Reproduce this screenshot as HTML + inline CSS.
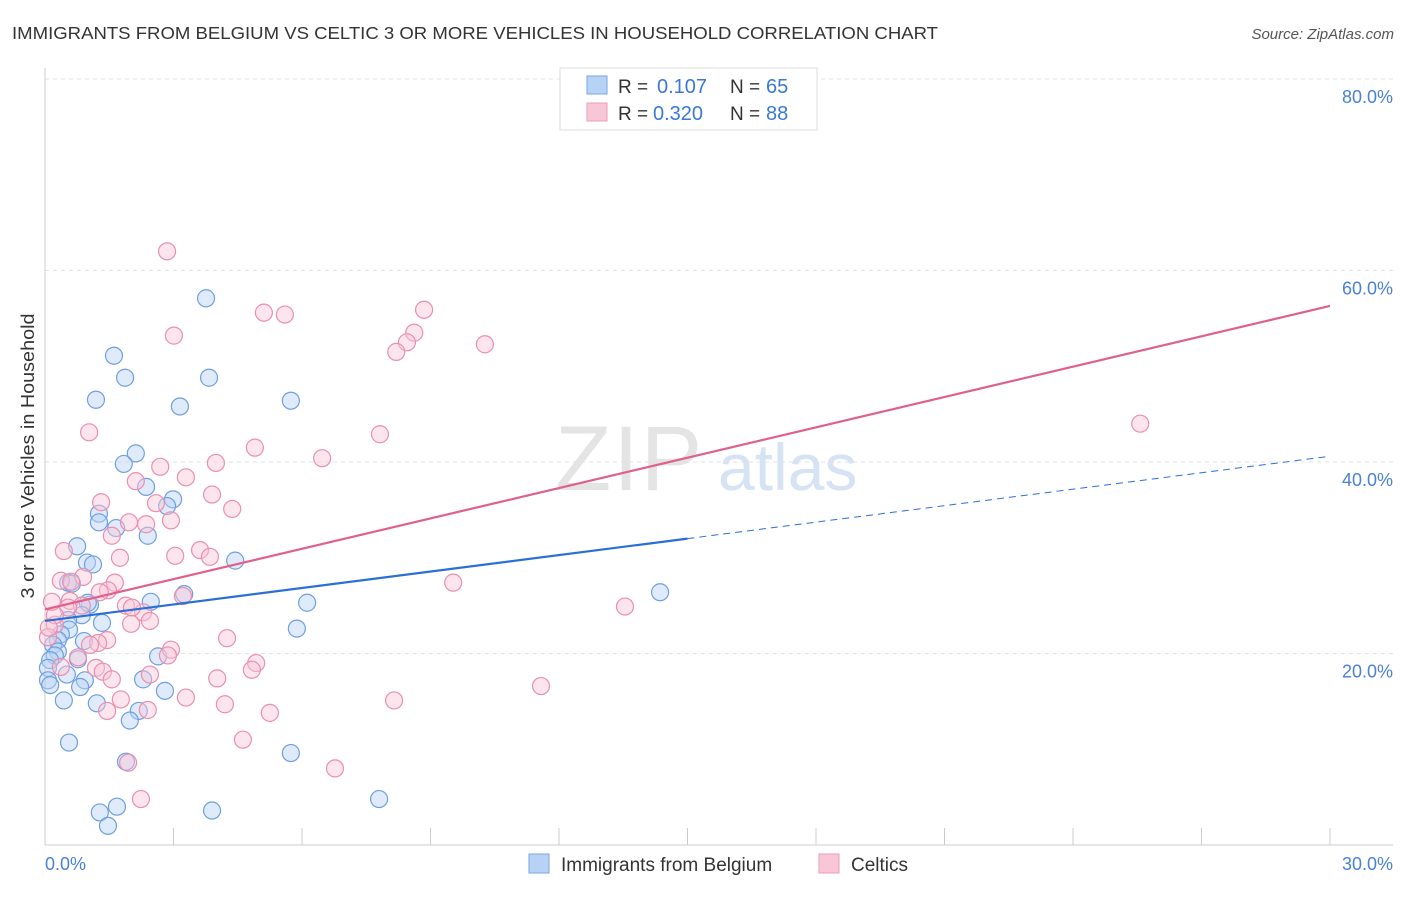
<!DOCTYPE html>
<html><head><meta charset="utf-8"><style>
body{margin:0;background:#fff;font-family:"Liberation Sans",sans-serif;}
svg text{font-family:"Liberation Sans",sans-serif;}
</style></head><body>
<svg id="chart" width="1406" height="892" xmlns="http://www.w3.org/2000/svg">
<text x="12" y="39" font-size="17.5" fill="#333" textLength="926" lengthAdjust="spacingAndGlyphs">IMMIGRANTS FROM BELGIUM VS CELTIC 3 OR MORE VEHICLES IN HOUSEHOLD CORRELATION CHART</text>
<text x="1394" y="39" font-size="15" fill="#555" text-anchor="end" font-style="italic">Source: ZipAtlas.com</text>
<g>
<text x="555" y="490" font-size="92" fill="#e4e4e4" font-family="Liberation Serif,serif" letter-spacing="2">ZIP</text>
<text x="718" y="490" font-size="66" fill="#d6e3f5">atlas</text>
</g>
<g id="grid"></g>
<g id="axes"></g>
<g id="pts-blue"></g>
<g id="pts-pink"></g>
<g id="lines"></g>
<text transform="translate(34,456) rotate(-90)" font-size="18" fill="#333" text-anchor="middle" textLength="285" lengthAdjust="spacingAndGlyphs">3 or more Vehicles in Household</text>
<g>
<rect x="560" y="68" width="257" height="62" fill="#fff" stroke="#ddd"/>
<rect x="587" y="76" width="20" height="18" fill="#b7d2f5" stroke="#7aa6e3"/>
<rect x="587" y="103" width="20" height="18" fill="#f8c6d6" stroke="#ee9cb8"/>
<text x="618" y="93" font-size="19" fill="#333">R =</text>
<text x="657" y="93" font-size="20" fill="#3a78d8">0.107</text>
<text x="730" y="93" font-size="19" fill="#333">N =</text>
<text x="766" y="93" font-size="20" fill="#3a78d8">65</text>
<text x="618" y="120" font-size="19" fill="#333">R =</text>
<text x="653" y="120" font-size="20" fill="#3a78d8">0.320</text>
<text x="730" y="120" font-size="19" fill="#333">N =</text>
<text x="766" y="120" font-size="20" fill="#3a78d8">88</text>
</g>
<g>
<rect x="529" y="854" width="20" height="19" fill="#b7d2f5" stroke="#7aa6e3"/>
<text x="561" y="871" font-size="19" fill="#333">Immigrants from Belgium</text>
<rect x="819" y="854" width="20" height="19" fill="#f8c6d6" stroke="#ee9cb8"/>
<text x="851" y="871" font-size="19" fill="#333">Celtics</text>
</g>
</svg>
<script>
const yTicks=[20,40,60,80];
const xTickLabels=["0.0%","30.0%"];
const blueX=[3.76,1.61,1.87,3.83,1.19,3.15,5.74,2.12,1.84,2.36,2.99,2.85,1.26,1.26,1.66,2.40,0.75,4.44,0.98,1.12,0.54,0.63,3.25,2.47,6.12,1.05,1.00,0.86,0.54,1.33,0.56,5.88,0.37,0.30,0.91,0.19,0.30,0.23,0.12,2.64,0.77,0.07,0.51,0.93,2.29,0.07,0.82,2.80,0.44,1.21,2.19,1.98,0.56,5.74,1.89,14.36,7.80,1.68,1.28,3.90,1.47,0.12];
const blueY=[57.1,51.1,48.8,48.8,46.5,45.8,46.4,40.9,39.8,37.4,36.1,35.4,34.6,33.7,33.1,32.3,31.2,29.7,29.5,29.3,27.4,27.3,26.2,25.4,25.3,25.1,25.3,24.0,23.5,23.2,22.5,22.6,22.0,21.4,21.3,20.9,20.2,19.8,19.3,19.7,19.4,18.5,17.8,17.2,17.3,17.2,16.5,16.1,15.1,14.8,14.0,13.0,10.7,9.6,8.7,26.4,4.8,4.0,3.4,3.6,2.0,16.7];
const pinkX=[2.85,5.11,5.60,8.85,3.01,8.62,8.45,8.20,10.27,1.03,7.82,4.90,6.47,2.69,3.99,3.29,2.12,1.31,3.90,4.37,2.59,1.96,2.94,2.36,1.56,3.62,0.44,3.85,1.75,3.04,0.89,1.63,0.37,0.61,1.47,1.28,3.22,9.53,0.58,1.89,2.29,0.86,0.54,2.45,2.03,0.23,2.01,4.25,0.07,1.45,1.24,1.05,2.94,2.87,4.93,0.77,1.19,4.83,1.35,2.45,0.37,4.02,1.56,11.58,3.29,8.15,1.77,4.20,2.40,1.45,5.25,4.62,1.94,6.77,2.24,13.54,25.57,0.23,0.09,0.16];
const pinkY=[62.0,55.6,55.4,55.9,53.2,53.5,52.5,51.5,52.3,43.1,42.9,41.5,40.4,39.5,39.9,38.4,38.0,35.8,36.6,35.1,35.7,33.7,33.9,33.5,32.3,30.8,30.7,30.1,30.0,30.2,28.0,27.4,27.6,27.5,26.6,26.4,26.0,27.4,25.5,25.0,24.3,25.0,24.8,23.4,24.8,23.0,23.1,21.6,21.7,21.4,21.1,20.9,20.4,19.8,19.0,19.6,18.5,18.3,18.1,17.8,18.6,17.4,17.3,16.6,15.4,15.1,15.2,14.7,14.1,14.0,13.8,11.0,8.6,8.0,4.8,24.9,44.0,24.0,22.7,25.4];
const blueLine=[23.4,40.6];
const blueSolidEnd=15;
const pinkLine=[24.6,56.3];
const NS="http://www.w3.org/2000/svg";
const X0=45,X1=1330,Y0=845,PXPER=9.575;
const sx=v=>X0+(v/30)*(X1-X0);
const sy=v=>Y0-v*PXPER;
function mk(tag,attrs,parent){const e=document.createElementNS(NS,tag);for(const k in attrs)e.setAttribute(k,attrs[k]);parent.appendChild(e);return e;}
const grid=document.getElementById('grid'),axes=document.getElementById('axes');
yTicks.forEach(t=>{
 const l=mk('line',{x1:X0,x2:1393,y1:sy(t),y2:sy(t),stroke:'#e2e2e2','stroke-dasharray':'4,4'},grid);
 
 
 const tx=mk('text',{x:1393,y:sy(t)+24,'font-size':18,fill:'#4a80d8','text-anchor':'end'},axes);
 tx.textContent=t.toFixed(1)+'%';
 
 
});
mk('line',{x1:X0,x2:X0,y1:68,y2:Y0,stroke:'#ccc'},axes);
mk('line',{x1:X0,x2:1393,y1:Y0,y2:Y0,stroke:'#ccc'},axes);
for(let i=0;i<=10;i++){const x=sx(i*3);const t=mk('line',{x1:x,x2:x,y1:Y0,y2:Y0-17,stroke:'#ccc'},axes);
 
 }
[[0,'start',45],[30,'end',1393]].forEach((d,i)=>{const t=mk('text',{x:d[2],y:870,'font-size':18,fill:'#4a80d8','text-anchor':d[1]},axes);t.textContent=xTickLabels[i];
 
 });
function pts(xs,ys,g,fill,stroke,name){xs.forEach((x,i)=>{const c=mk('circle',{cx:sx(x),cy:sy(ys[i]),r:8.5,fill:fill,'fill-opacity':0.45,stroke:stroke,'stroke-width':1.2},g);
 
 });}
pts(blueX,blueY,document.getElementById('pts-blue'),'#b7d2f5','#6f9fe0','belgium-point');
pts(pinkX,pinkY,document.getElementById('pts-pink'),'#f8c6d6','#ea8fae','celtics-point');
const lg=document.getElementById('lines');
const by=x=>blueLine[0]+(blueLine[1]-blueLine[0])*x/30;
const bl=mk('line',{x1:sx(0),y1:sy(by(0)),x2:sx(blueSolidEnd),y2:sy(by(blueSolidEnd)),stroke:'#2a6fd6','stroke-width':2.2},lg);


const bd=mk('line',{x1:sx(blueSolidEnd),y1:sy(by(blueSolidEnd)),x2:sx(30),y2:sy(by(30)),stroke:'#2a6fd6','stroke-width':1,'stroke-dasharray':'7,5'},lg);


const pl=mk('line',{x1:sx(0),y1:sy(pinkLine[0]),x2:sx(30),y2:sy(pinkLine[1]),stroke:'#e0608a','stroke-width':2.2},lg);


</script>
</body></html>
